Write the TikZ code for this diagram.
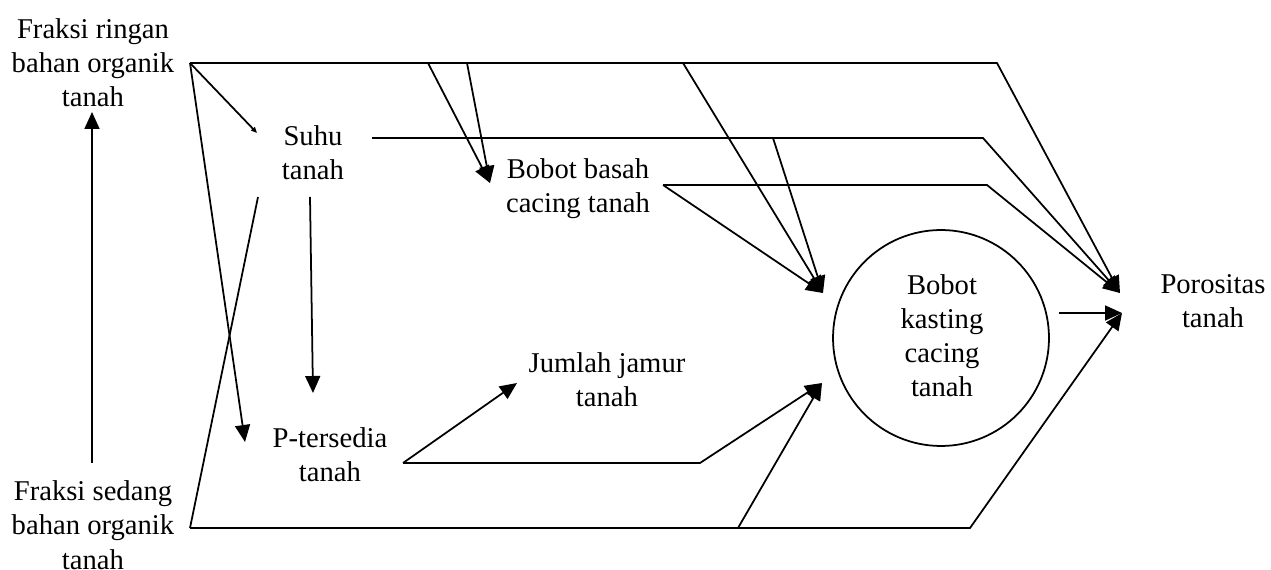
\documentclass[tikz,border=0pt]{standalone}
\usepackage{fontspec}
\setmainfont{Liberation Serif}
\usetikzlibrary{arrows.meta}
\begin{document}
\begin{tikzpicture}[x=0.02cm, y=-0.02cm, line width=1pt,
  lbl/.style={align=center, anchor=base, inner sep=0pt,
              font=\fontsize{16.3}{19.4}\selectfont},
  arr/.style={-{Triangle[length=0.34cm,width=0.3cm]}},
  smallarr/.style={-{Triangle[length=0.12cm,width=0.1cm]}}]
\useasboundingbox (0,0) rectangle (1271,570);

% variables (anchored at the baseline of the last line)
\node[lbl] (ringan) at (93,107) {Fraksi ringan\\bahan organik\\tanah};
\node[lbl] (sedang) at (93,569) {Fraksi sedang\\bahan organik\\tanah};
\node[lbl] (suhu)   at (313,180) {Suhu\\tanah};
\node[lbl] (basah)  at (578,213) {Bobot basah\\cacing tanah};
\node[lbl] (jamur)  at (607,407) {Jumlah jamur\\tanah};
\node[lbl] (ptsd)   at (330,482) {P-tersedia\\tanah};
\node[circle, draw, inner sep=0pt, minimum size=4.32cm] (kasting) at (941,338) {};
\node[lbl] (kastingtxt) at (942,397) {Bobot\\kasting\\cacing\\tanah};
\node[lbl] (poro)   at (1213,328) {Porositas\\tanah};

% connector ports
\coordinate (r0)      at (190,63);
\coordinate (s0)      at (190,528);
\coordinate (ringanB) at (92,112);
\coordinate (sedangT) at (92,463);
\coordinate (suhuT)   at (257,133);
\coordinate (suhuBL)  at (258,197);
\coordinate (suhuB)   at (310,197);
\coordinate (ptsdT)   at (313,393);
\coordinate (ptsdL)   at (245,442);
\coordinate (suhuR)   at (372,138);
\coordinate (basahIn) at (490,183);
\coordinate (basahR)  at (663,185);
\coordinate (ptsdR)   at (403,463);
\coordinate (jamurIn) at (517,383);
\coordinate (kastIn1) at (823,293);
\coordinate (kastIn2) at (822,383);
\coordinate (kastOut) at (1059,313);
\coordinate (poroIn1) at (1120,293);
\coordinate (poroIn2) at (1122,313);

% bends and branch points
\coordinate (topA) at (428,63);
\coordinate (topB) at (467,63);
\coordinate (topC) at (683,63);
\coordinate (topD) at (997,63);
\coordinate (suhuA) at (773,138);
\coordinate (suhuD) at (983,138);
\coordinate (basahD) at (987,185);
\coordinate (ptsdD) at (700,463);
\coordinate (botA) at (738,528);
\coordinate (botD) at (970,528);

% connectors
\draw[arr] (sedangT) -- (ringanB);
\draw[smallarr] (r0) -- (suhuT);
\draw[arr] (r0) -- (ptsdL);
\draw[arr] (r0) -- (topD) -- (poroIn1);
\draw[arr] (topA) -- (basahIn);
\draw[arr] (topB) -- (basahIn);
\draw[arr] (topC) -- (kastIn1);
\draw[arr] (suhuR) -- (suhuD) -- (poroIn1);
\draw[arr] (suhuA) -- (kastIn1);
\draw[arr] (basahR) -- (basahD) -- (poroIn1);
\draw[arr] (basahR) -- (kastIn1);
\draw[arr] (suhuB) -- (ptsdT);
\draw (s0) -- (suhuBL);
\draw[arr] (s0) -- (botD) -- (poroIn2);
\draw[arr] (botA) -- (kastIn2);
\draw[arr] (ptsdR) -- (jamurIn);
\draw[arr] (ptsdR) -- (ptsdD) -- (kastIn2);
\draw[arr] (kastOut) -- (poroIn2);
\end{tikzpicture}
\end{document}
